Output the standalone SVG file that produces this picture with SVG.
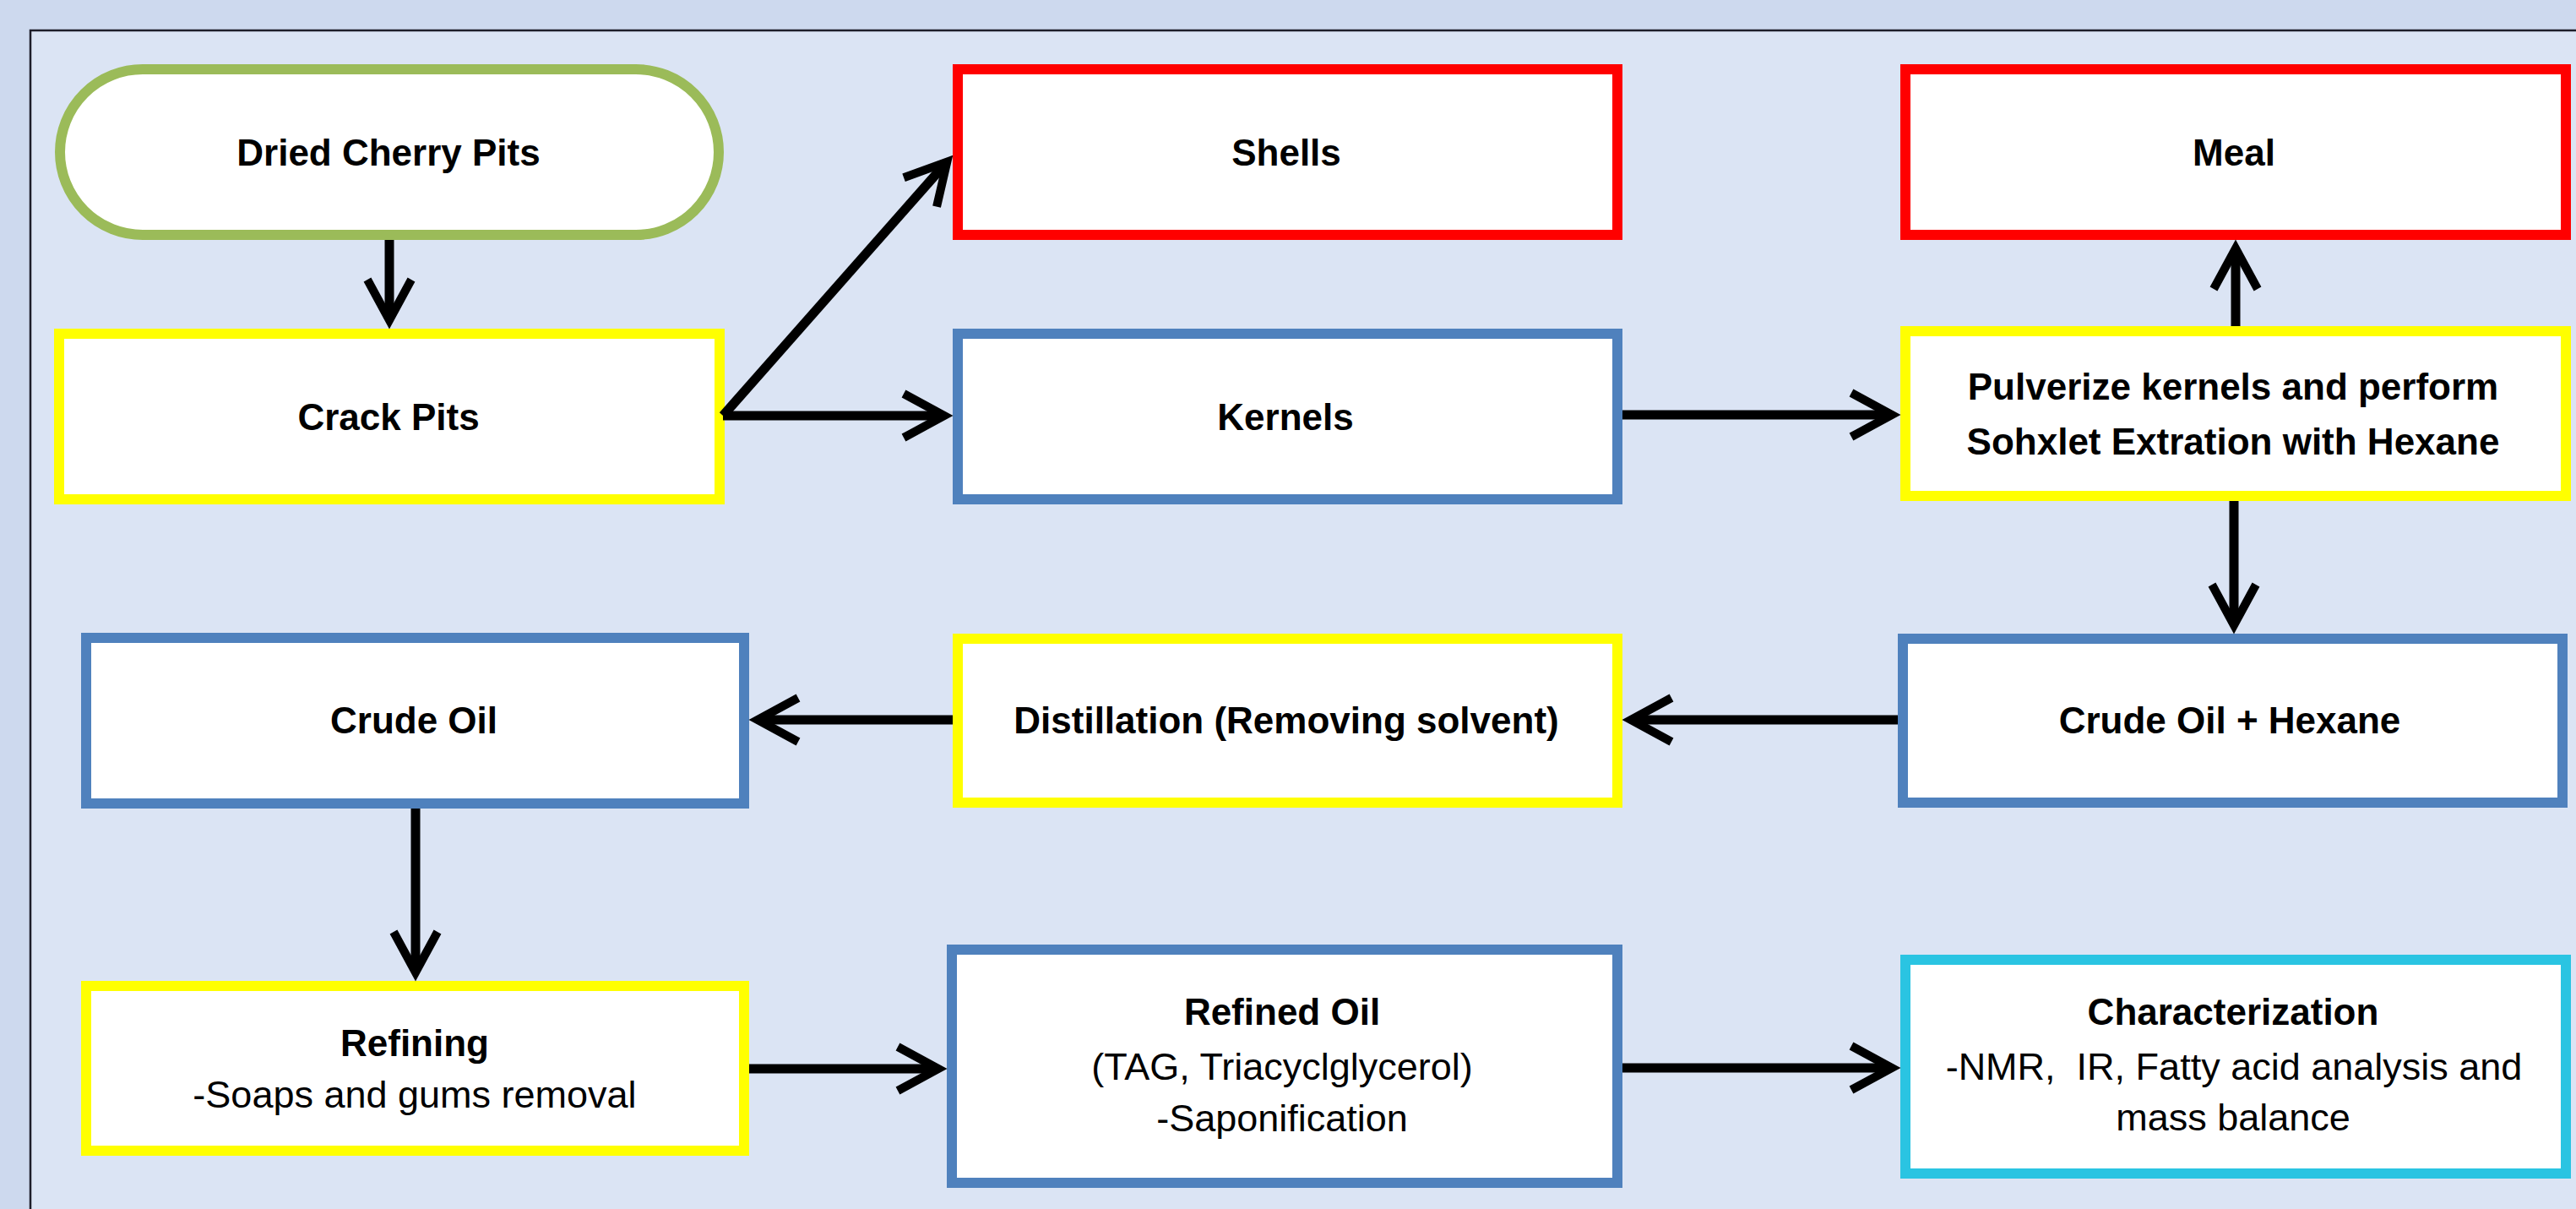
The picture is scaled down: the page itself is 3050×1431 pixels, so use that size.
<svg xmlns="http://www.w3.org/2000/svg" width="3050" height="1431" viewBox="0 0 3050 1431">
  <style>
    .box { fill: #FFFFFF; stroke-width: 12; }
    .green { stroke: #9BBB59; }
    .yellow { stroke: #FFFF00; }
    .red { stroke: #FF0000; }
    .blue { stroke: #4F81BD; }
    .cyan { stroke: #2AC4E2; }
    .t { font-family: "Liberation Sans", Arial, sans-serif; font-size: 44px; fill: #000; text-anchor: middle; }
    .b { font-weight: bold; }
    .r { font-size: 45px; }
    .conn line { stroke: #000; stroke-width: 11; marker-end: url(#ah); }
  </style>
  <defs>
    <marker id="ah" markerUnits="userSpaceOnUse" viewBox="-60 -40 80 80" markerWidth="80" markerHeight="80" refX="0" refY="0" orient="auto">
      <path d="M-46,-26 L2,0 L-46,26" fill="none" stroke="#000" stroke-width="10" stroke-linejoin="miter"/>
    </marker>
  </defs>

  <rect x="0" y="0" width="3050" height="1431" fill="#CDD9EE"/>
  <rect x="36" y="36" width="3100" height="1500" fill="#DBE4F4" stroke="#1E1E2A" stroke-width="2.5"/>

  <g id="dried-cherry-pits">
    <rect class="box green" x="71" y="82" width="780" height="196" rx="98" ry="98"/>
    <text class="t b" x="460" y="196">Dried Cherry Pits</text>
  </g>
  <g id="crack-pits">
    <rect class="box yellow" x="70" y="395" width="782" height="196"/>
    <text class="t b" x="460" y="509">Crack Pits</text>
  </g>
  <g id="shells">
    <rect class="box red" x="1134" y="82" width="781" height="196"/>
    <text class="t b" x="1523" y="196">Shells</text>
  </g>
  <g id="kernels">
    <rect class="box blue" x="1134" y="395" width="781" height="196"/>
    <text class="t b" x="1522" y="509">Kernels</text>
  </g>
  <g id="meal">
    <rect class="box red" x="2256" y="82" width="782" height="196"/>
    <text class="t b" x="2645" y="196">Meal</text>
  </g>
  <g id="pulverize">
    <rect class="box yellow" x="2256" y="392" width="782" height="195"/>
    <text class="t b" x="2644" y="473">Pulverize kernels and perform</text>
    <text class="t b" x="2644" y="538">Sohxlet Extration with Hexane</text>
  </g>
  <g id="crude-oil">
    <rect class="box blue" x="102" y="755" width="779" height="196"/>
    <text class="t b" x="490" y="868">Crude Oil</text>
  </g>
  <g id="distillation">
    <rect class="box yellow" x="1134" y="756" width="781" height="194"/>
    <text class="t b" x="1523" y="868">Distillation (Removing solvent)</text>
  </g>
  <g id="crude-oil-hexane">
    <rect class="box blue" x="2253" y="756" width="781" height="194"/>
    <text class="t b" x="2640" y="868">Crude Oil + Hexane</text>
  </g>
  <g id="refining">
    <rect class="box yellow" x="102" y="1167" width="779" height="195"/>
    <text class="t b" x="491" y="1250">Refining</text>
    <text class="t r" x="491" y="1311">-Soaps and gums removal</text>
  </g>
  <g id="refined-oil">
    <rect class="box blue" x="1127" y="1124" width="788" height="276"/>
    <text class="t b" x="1518" y="1213">Refined Oil</text>
    <text class="t r" x="1518" y="1278">(TAG, Triacyclglycerol)</text>
    <text class="t r" x="1518" y="1339">-Saponification</text>
  </g>
  <g id="characterization">
    <rect class="box cyan" x="2256" y="1136" width="782" height="253"/>
    <text class="t b" x="2644" y="1213">Characterization</text>
    <text class="t r" x="2645" y="1278" xml:space="preserve">-NMR,  IR, Fatty acid analysis and</text>
    <text class="t r" x="2644" y="1338">mass balance</text>
  </g>

  <g id="connectors" class="conn">
    <line x1="461" y1="284" x2="461" y2="377"/>
    <line x1="856" y1="492" x2="1120" y2="193"/>
    <line x1="856" y1="492" x2="1116" y2="492"/>
    <line x1="1921" y1="491" x2="2238" y2="491"/>
    <line x1="2647" y1="386" x2="2647" y2="296"/>
    <line x1="2645" y1="593" x2="2645" y2="738"/>
    <line x1="2247" y1="852" x2="1933" y2="852"/>
    <line x1="1128" y1="852" x2="899" y2="852"/>
    <line x1="492" y1="957" x2="492" y2="1149"/>
    <line x1="887" y1="1265" x2="1109" y2="1265"/>
    <line x1="1921" y1="1264" x2="2238" y2="1264"/>
  </g>
</svg>
